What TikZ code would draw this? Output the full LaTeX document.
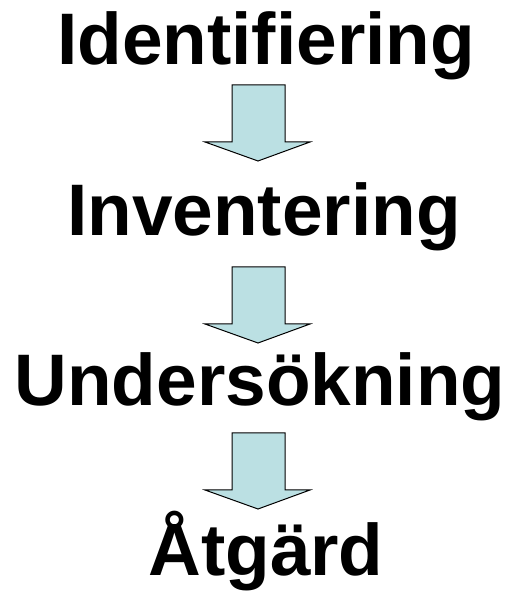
\documentclass[tikz,border=0pt]{standalone}
\usepackage{fontspec}
\setmainfont{Liberation Sans}
\begin{document}
\begin{tikzpicture}[x=1pt,y=1pt,
  word/.style={font=\fontsize{73}{88}\selectfont\bfseries, anchor=base, inner sep=0pt},
  blockarrow/.style={draw=black, line width=1pt, fill=arrowfill, line join=miter}]
\definecolor{arrowfill}{HTML}{BBE0E3}
\useasboundingbox (0,0) rectangle (520,591);
\node[word] (w1) at (266,526) {Identifiering};
\node[word] (w2) at (264,355) {Inventering};
\node[word] (w3) at (260,185) {Undersökning};
\node[word] (w4) at (266,16) {Åtgärd};
\newcommand{\downarrowshape}[2]{%
  \draw[blockarrow] (232,#1) -- (285,#1) -- (285,#2) -- (310,#2) -- (258,#2-19) -- (205,#2) -- (232,#2) -- cycle;}
\downarrowshape{506}{449}
\downarrowshape{324}{267}
\downarrowshape{158}{101}
\end{tikzpicture}
\end{document}
